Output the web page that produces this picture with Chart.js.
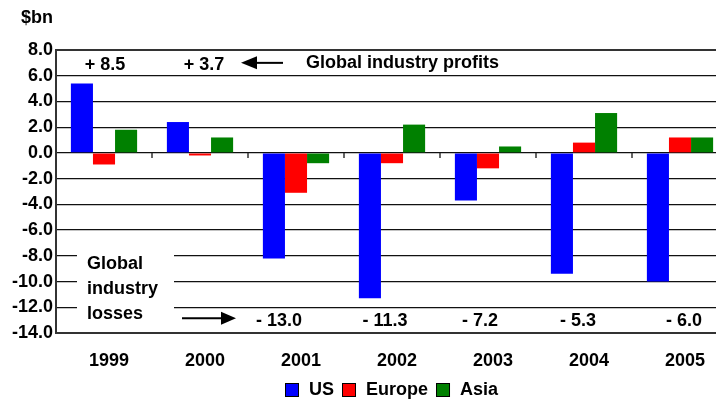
<!DOCTYPE html>
<html>
<head>
<meta charset="utf-8">
<script src="https://cdn.jsdelivr.net/npm/chart.js@4.4.1/dist/chart.umd.min.js"></script>
<style>
  html, body { margin: 0; padding: 0; background: #fff; overflow: hidden; }
  #wrap { position: relative; width: 716px; height: 402px; overflow: hidden; }
  #chart { position: absolute; left: 0; top: 0; }
</style>
</head>
<body>
<div id="wrap"><canvas id="chart" width="728" height="402"></canvas></div>
<script>
// chart data
const years = ['1999', '2000', '2001', '2002', '2003', '2004', '2005'];
const usValues = [5.4, 2.4, -8.2, -11.3, -3.7, -9.4, -10.0];
const europeValues = [-0.9, -0.2, -3.1, -0.8, -1.2, 0.8, 1.2];
const asiaValues = [1.8, 1.2, -0.8, 2.2, 0.5, 3.1, 1.2];
const seriesNames = ['US', 'Europe', 'Asia'];
const yMin = -14, yMax = 8, yStep = 2;
// global totals written over the plot
const profitTotals = ['+ 8.5', '+ 3.7', '', '', '', '', ''];
const lossTotals = ['', '', '- 13.0', '- 11.3', '- 7.2', '- 5.3', '- 6.0'];
const profitNote = 'Global industry profits';
const lossNote = ['Global', 'industry', 'losses'];

const FONT = '"Liberation Sans", Arial, sans-serif';
const colors = ['#0000ff', '#ff0000', '#008000'];
// small horizontal nudges of the total labels, px
const profitShift = [1, 4, 0, 0, 0, 0, 0];
const lossShift = [0, 0, -17, -7, -8, -6, 4];

function arrow(ctx, x1, x2, y, headLen, headH){
  // shaft from x1 to the head, head tip at x2
  const dir = x2 > x1 ? 1 : -1;
  ctx.save();
  ctx.strokeStyle = '#000'; ctx.fillStyle = '#000'; ctx.lineWidth = 2;
  ctx.beginPath(); ctx.moveTo(x1, y); ctx.lineTo(x2 - dir * headLen, y); ctx.stroke();
  ctx.beginPath();
  ctx.moveTo(x2, y);
  ctx.lineTo(x2 - dir * headLen, y - headH / 2);
  ctx.lineTo(x2 - dir * headLen, y + headH / 2);
  ctx.closePath(); ctx.fill();
  ctx.restore();
}

const overlay = {
  id: 'overlay',
  afterDatasetsDraw(chart){
    const ctx = chart.ctx, xs = chart.scales.x, ys = chart.scales.y, a = chart.chartArea;
    ctx.save();
    // small ticks under the zero line at category boundaries
    ctx.strokeStyle = '#333'; ctx.lineWidth = 1.5;
    const y0 = ys.getPixelForValue(0);
    for (let i = 0; i < years.length - 1; i++) {
      const x = (xs.getPixelForValue(i) + xs.getPixelForValue(i + 1)) / 2;
      ctx.beginPath(); ctx.moveTo(x, y0); ctx.lineTo(x, y0 + 5); ctx.stroke();
    }
    // white patch behind the loss note
    ctx.fillStyle = '#fff';
    ctx.fillRect(a.left + 21, ys.getPixelForValue(-7.3), 97, ys.getPixelForValue(-13.2) - ys.getPixelForValue(-7.3));

    ctx.fillStyle = '#000';
    ctx.textBaseline = 'middle';
    ctx.textAlign = 'center';
    ctx.font = 'bold 18px ' + FONT;
    profitTotals.forEach((t, i) => { if (t) ctx.fillText(t, xs.getPixelForValue(i) + profitShift[i], ys.getPixelForValue(6.85)); });
    lossTotals.forEach((t, i) => { if (t) ctx.fillText(t, xs.getPixelForValue(i) + lossShift[i], ys.getPixelForValue(-13.1)); });
    ctx.textAlign = 'left';
    ctx.fillText(profitNote, a.left + 250, ys.getPixelForValue(6.95));
    lossNote.forEach((t, i) => ctx.fillText(t, a.left + 31, ys.getPixelForValue(-8.6 - i * 1.98)));
    arrow(ctx, a.left + 227, a.left + 185, ys.getPixelForValue(7.0), 16, 13);
    arrow(ctx, a.left + 126, a.left + 180, ys.getPixelForValue(-12.85), 15, 13);

    // unit label
    ctx.fillText('$bn', 21, 18);

    // legend
    let lx = 285; const ly = 390;
    chart.data.datasets.forEach(ds => {
      ctx.fillStyle = ds.backgroundColor;
      ctx.fillRect(lx, ly - 7, 14, 14);
      ctx.strokeStyle = '#000'; ctx.lineWidth = 1;
      ctx.strokeRect(lx + 0.5, ly - 6.5, 13, 13);
      ctx.fillStyle = '#000';
      ctx.fillText(ds.label, lx + 24, ly);
      lx += 24 + ctx.measureText(ds.label).width + 8;
    });
    ctx.restore();
  }
};

new Chart(document.getElementById('chart'), {
  type: 'bar',
  data: {
    labels: years,
    datasets: [usValues, europeValues, asiaValues].map((d, i) => ({
      label: seriesNames[i],
      data: d,
      backgroundColor: colors[i],
      borderWidth: 0,
      barPercentage: 1.0,
      categoryPercentage: 0.69
    }))
  },
  options: {
    responsive: false,
    animation: false,
    layout: { padding: { top: 50, left: 0, right: 0, bottom: 0 } },
    plugins: { legend: { display: false }, tooltip: { enabled: false } },
    scales: {
      x: {
        grid: { display: false, drawTicks: false },
        border: { display: false },
        ticks: { color: '#000', font: { family: FONT, size: 18, weight: 'bold' }, padding: 17, labelOffset: 5 },
        afterFit(s){ s.height = 69; }
      },
      y: {
        min: yMin, max: yMax,
        grid: {
          drawTicks: false,
          color: c => (c.tick && (c.tick.value === yMax || c.tick.value === yMin)) ? '#333' : '#111',
          lineWidth: c => (c.tick && (c.tick.value === yMax || c.tick.value === yMin)) ? 2 : 1.2
        },
        border: { display: true, color: '#333', width: 2 },
        ticks: {
          stepSize: yStep, color: '#000', padding: 3,
          font: { family: FONT, size: 18, weight: 'bold' },
          callback: v => v.toFixed(1)
        },
        afterFit(s){ s.width = 56; }
      }
    }
  },
  plugins: [overlay]
});
</script>
</body>
</html>
